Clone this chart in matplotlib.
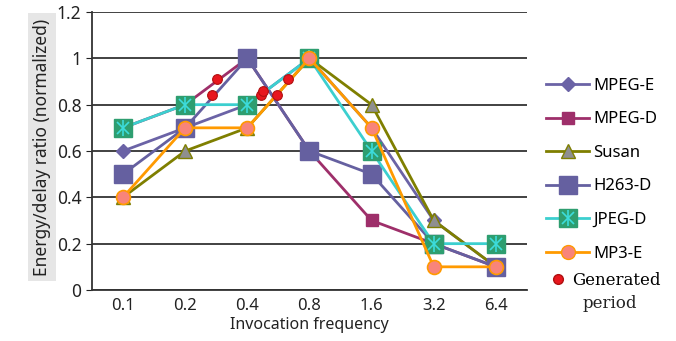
import matplotlib
matplotlib.use("Agg")
import matplotlib.pyplot as plt
from matplotlib.lines import Line2D

# data
freqs = ["0.1", "0.2", "0.4", "0.8", "1.6", "3.2", "6.4"]
mpeg_e = [0.6, 0.7, 0.8, 1.0, 0.7, 0.3, 0.1]
mpeg_d = [0.7, 0.8, 1.0, 0.6, 0.3, 0.2, 0.1]
susan = [0.4, 0.6, 0.7, 1.0, 0.8, 0.3, 0.1]
h263_d = [0.5, 0.7, 1.0, 0.6, 0.5, 0.2, 0.1]
jpeg_d = [0.7, 0.8, 0.8, 1.0, 0.6, 0.2, 0.2]
mp3_e = [0.4, 0.7, 0.7, 1.0, 0.7, 0.1, 0.1]

# generated period points (x in category index units)
gen_x = [1.44, 1.52, 2.22, 2.26, 2.48, 2.65]
gen_y = [0.84, 0.91, 0.84, 0.86, 0.84, 0.91]

yticks = [0, 0.2, 0.4, 0.6, 0.8, 1.0, 1.2]
ytick_labels = ["0", "0.2", "0.4", "0.6", "0.8", "1", "1.2"]

plt.rcParams['font.family'] = ['Noto Sans', 'DejaVu Sans']

fig = plt.figure(figsize=(6.76, 3.41), dpi=100)
ax = fig.add_axes([0.136, 0.1496, 0.6435, 0.8152])

x = list(range(len(freqs)))
lw = 2.0

ax.plot(x, mpeg_e, color="#6B63A6", lw=lw, marker="D", ms=7,
        mfc="#6B63A6", mec="#6B63A6", zorder=3)
ax.plot(x, mpeg_d, color="#9E2F6A", lw=lw, marker="s", ms=8,
        mfc="#9E2F6A", mec="#9E2F6A", zorder=3)
ax.plot(x, susan, color="#7F7F00", lw=lw, marker="^", ms=10,
        mfc="#8F8F8F", mec="#7F7F00", zorder=3)
ax.plot(x, h263_d, color="#6560A0", lw=lw, marker="s", ms=13,
        mfc="#6560A0", mec="#6560A0", zorder=3)
ax.plot(x, jpeg_d, color="#3CCFCF", lw=lw, marker="s", ms=13,
        mfc="#2E9E70", mec="#2E9E70", zorder=3)
ax.plot(x, jpeg_d, ls="none", marker="x", ms=9, mew=1.2, mec="#3CDCDC", zorder=3)
ax.plot(x, jpeg_d, ls="none", marker="|", ms=12, mew=1.2, mec="#3CDCDC", zorder=3)
ax.plot(x, mp3_e, color="#FF9A00", lw=lw, marker="o", ms=10,
        mfc="#F8847A", mec="#FF9A00", mew=1.2, zorder=3)

ax.plot(gen_x, gen_y, ls="none", marker="o", ms=7, mfc="#E8161E",
        mec="#B01010", mew=0.8, zorder=4)

ax.set_xlim(-0.5, 6.5)
ax.set_ylim(0, 1.2)
ax.set_xticks(x)
ax.set_xticklabels(freqs)
ax.set_yticks(yticks)
ax.set_yticklabels(ytick_labels)
ax.tick_params(axis="x", length=0, labelsize=12, pad=6, colors="#222222")
ax.tick_params(axis="y", length=4, labelsize=12.5, colors="#222222")
ax.yaxis.grid(True, color="#333333", lw=1.3)
ax.set_axisbelow(True)
for s in ["top", "right"]:
    ax.spines[s].set_visible(False)
for s in ["left", "bottom"]:
    ax.spines[s].set_color("#333333")
    ax.spines[s].set_linewidth(1.3)

ax.set_xlabel("Invocation frequency", fontsize=11.5, color="#222222", labelpad=2)
fig.text(42 / 676, 0.569, "Energy/delay ratio (normalized)", rotation=90,
         ha="center", va="center", fontsize=12.5, color="#222222",
         bbox=dict(boxstyle="square,pad=0.3", fc="#E6E6E6", ec="none"))

handles = [
    Line2D([], [], color="#6B63A6", lw=lw, marker="D", ms=7),
    Line2D([], [], color="#9E2F6A", lw=lw, marker="s", ms=8),
    Line2D([], [], color="#7F7F00", lw=lw, marker="^", ms=10, mfc="#8F8F8F"),
    Line2D([], [], color="#6560A0", lw=lw, marker="s", ms=13),
    (Line2D([], [], color="#3CCFCF", lw=lw, marker="s", ms=13,
            mfc="#2E9E70", mec="#2E9E70"),
     Line2D([], [], ls="none", marker="x", ms=9, mew=1.2, mec="#3CDCDC"),
     Line2D([], [], ls="none", marker="|", ms=12, mew=1.2, mec="#3CDCDC")),
    Line2D([], [], color="#FF9A00", lw=lw, marker="o", ms=10,
           mfc="#F8847A", mec="#FF9A00"),
]
labels = ["MPEG-E", "MPEG-D", "Susan", "H263-D", "JPEG-D", "MP3-E"]
leg = fig.legend(handles, labels, loc="upper left",
                 bbox_to_anchor=(531 / 676, 1 - 63 / 341), frameon=False,
                 fontsize=12, handlelength=2.6, handletextpad=0.25,
                 labelspacing=1.05)

gen_handle = Line2D([], [], ls="none", marker="o", ms=7, mfc="#E8161E",
                    mec="#B01010")
leg2 = fig.legend([gen_handle], ["Generated"], loc="upper left",
                  bbox_to_anchor=(535 / 676, 1 - 257 / 341), frameon=False,
                  prop={"family": "DejaVu Serif", "size": 12},
                  handlelength=1.0, handletextpad=0.35)
fig.text(583 / 676, 1 - 303 / 341, "period", ha="left", va="center",
         family="DejaVu Serif", fontsize=12, color="#222222")

fig.savefig("out.png", dpi=100)
